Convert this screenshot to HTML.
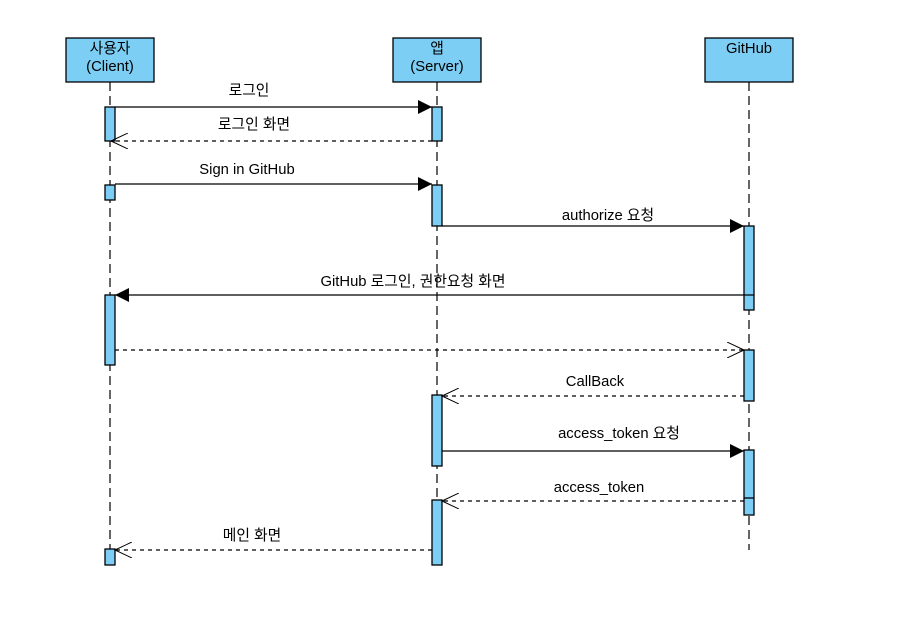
<!DOCTYPE html>
<html><head><meta charset="utf-8"><style>body{margin:0;background:#fff}</style></head><body>
<svg width="904" height="632" xmlns="http://www.w3.org/2000/svg" font-family="'Liberation Sans','Noto Sans CJK KR',sans-serif" font-size="14.8">
<defs>
<marker id="f" markerWidth="14" markerHeight="14" refX="14" refY="7" orient="auto" markerUnits="userSpaceOnUse"><path d="M0,0 L14,7 L0,14 Z" fill="#000"/></marker>
<marker id="o" markerWidth="18" markerHeight="16" refX="17" refY="8" orient="auto" markerUnits="userSpaceOnUse"><path d="M0,0 L17,8 L0,16" fill="none" stroke="#000"/></marker>
</defs>
<g stroke="#000" stroke-dasharray="9,5" stroke-width="1.2">
<line x1="110" y1="82" x2="110" y2="565"/>
<line x1="437" y1="82" x2="437" y2="565"/>
<line x1="749" y1="82" x2="749" y2="550"/>
</g>
<g fill="#7dcef4" stroke="#000" stroke-width="1.3">
<rect x="66" y="38" width="88" height="44"/>
<rect x="393" y="38" width="88" height="44"/>
<rect x="705" y="38" width="88" height="44"/>
<rect x="105" y="107" width="10" height="34"/>
<rect x="105" y="185" width="10" height="15"/>
<rect x="105" y="295" width="10" height="70"/>
<rect x="105" y="549" width="10" height="16"/>
<rect x="432" y="107" width="10" height="34"/>
<rect x="432" y="185" width="10" height="41"/>
<rect x="432" y="395" width="10" height="71"/>
<rect x="432" y="500" width="10" height="65"/>
<rect x="744" y="226" width="10" height="84"/>
<rect x="744" y="350" width="10" height="51"/>
<rect x="744" y="450" width="10" height="65"/>
<line x1="744" y1="498" x2="754" y2="498"/>
</g>
<g text-anchor="middle" fill="#000">
<text x="110" y="53">사용자</text><text x="110" y="71">(Client)</text>
<text x="437" y="53">앱</text><text x="437" y="71">(Server)</text>
<text x="749" y="53">GitHub</text>
<text x="249" y="95">로그인</text>
<text x="254" y="129">로그인 화면</text>
<text x="247" y="174">Sign in GitHub</text>
<text x="608" y="220">authorize 요청</text>
<text x="413" y="286">GitHub 로그인, 권한요청 화면</text>
<text x="595" y="386">CallBack</text>
<text x="619" y="438">access_token 요청</text>
<text x="599" y="492">access_token</text>
<text x="252" y="540">메인 화면</text>
</g>
<g stroke="#000" fill="none" stroke-width="1.2">
<line x1="115" y1="107" x2="432" y2="107" marker-end="url(#f)"/>
<line x1="432" y1="141" x2="111" y2="141" stroke-dasharray="4,4" marker-end="url(#o)"/>
<line x1="115" y1="184" x2="432" y2="184" marker-end="url(#f)"/>
<line x1="442" y1="226" x2="744" y2="226" marker-end="url(#f)"/>
<line x1="754" y1="295" x2="115" y2="295" marker-end="url(#f)"/>
<line x1="115" y1="350" x2="744" y2="350" stroke-dasharray="4,4" marker-end="url(#o)"/>
<line x1="744" y1="396" x2="442" y2="396" stroke-dasharray="4,4" marker-end="url(#o)"/>
<line x1="442" y1="451" x2="744" y2="451" marker-end="url(#f)"/>
<line x1="744" y1="501" x2="442" y2="501" stroke-dasharray="4,4" marker-end="url(#o)"/>
<line x1="432" y1="550" x2="115" y2="550" stroke-dasharray="4,4" marker-end="url(#o)"/>
</g>
</svg>
</body></html>
